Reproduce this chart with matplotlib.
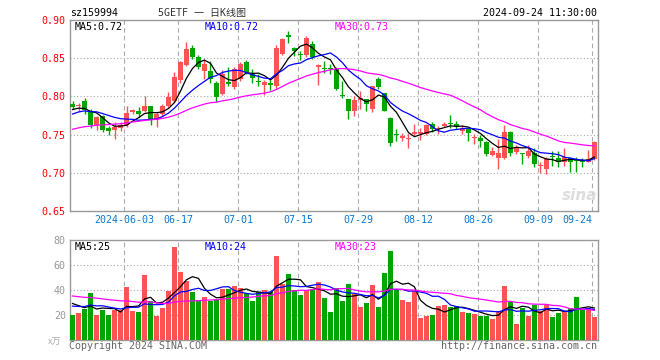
import numpy as np
import pandas as pd
import matplotlib
matplotlib.use("Agg")
import matplotlib.pyplot as plt

# --- data (5GETF sz159994, daily, 2024-05-21 .. 2024-09-24) ---
opens = [0.790, 0.787, 0.7937, 0.7807, 0.762, 0.774, 0.7585, 0.7554, 0.758, 0.763,
         0.7794, 0.7815, 0.7815, 0.787, 0.7697, 0.777, 0.788, 0.7946, 0.8215, 0.8407,
         0.8635, 0.851, 0.833, 0.8337, 0.817, 0.8033, 0.8185, 0.812, 0.8228, 0.8446,
         0.829, 0.8206, 0.8155, 0.8173, 0.814, 0.8555, 0.880, 0.864, 0.856, 0.854,
         0.868, 0.8385, 0.837, 0.837, 0.836, 0.8015, 0.797, 0.781, 0.7955, 0.796,
         0.783, 0.823, 0.804, 0.772, 0.7505, 0.746, 0.7445, 0.7505, 0.7505, 0.7505,
         0.764, 0.757, 0.7615, 0.7655, 0.764, 0.7545, 0.7575, 0.7455, 0.746, 0.740,
         0.7235, 0.719, 0.719, 0.753, 0.727, 0.7265, 0.7225, 0.7255, 0.7085, 0.7055,
         0.7215, 0.720, 0.7135, 0.7195, 0.7165, 0.715, 0.7145, 0.718]
highs = [0.7945, 0.791, 0.798, 0.7837, 0.774, 0.776, 0.761, 0.7663, 0.766, 0.788,
         0.784, 0.786, 0.801, 0.788, 0.779, 0.790, 0.8055, 0.8316, 0.846, 0.871,
         0.867, 0.854, 0.849, 0.846, 0.8206, 0.834, 0.838, 0.838, 0.845, 0.847,
         0.836, 0.829, 0.822, 0.821, 0.867, 0.876, 0.885, 0.865, 0.860, 0.879,
         0.872, 0.843, 0.846, 0.843, 0.838, 0.8206, 0.797, 0.801, 0.8075, 0.797,
         0.814, 0.826, 0.805, 0.773, 0.7575, 0.752, 0.752, 0.764, 0.7585, 0.764,
         0.766, 0.7615, 0.766, 0.776, 0.768, 0.762, 0.759, 0.751, 0.750, 0.741,
         0.734, 0.744, 0.762, 0.755, 0.736, 0.7265, 0.736, 0.733, 0.714, 0.7205,
         0.729, 0.729, 0.733, 0.721, 0.721, 0.719, 0.7295, 0.741]
lows = [0.784, 0.7815, 0.777, 0.759, 0.7554, 0.754, 0.7497, 0.7436, 0.755, 0.7602,
        0.777, 0.773, 0.780, 0.762, 0.760, 0.775, 0.786, 0.7925, 0.818, 0.840,
        0.8487, 0.836, 0.823, 0.818, 0.7925, 0.802, 0.814, 0.8098, 0.8206, 0.8295,
        0.818, 0.814, 0.802, 0.809, 0.810, 0.854, 0.870, 0.853, 0.848, 0.851,
        0.849, 0.8143, 0.831, 0.829, 0.809, 0.7976, 0.770, 0.775, 0.7835, 0.781,
        0.780, 0.810, 0.7805, 0.7345, 0.741, 0.742, 0.7325, 0.748, 0.7435, 0.750,
        0.7535, 0.7505, 0.760, 0.759, 0.757, 0.7505, 0.742, 0.738, 0.734, 0.722,
        0.722, 0.7045, 0.7185, 0.7225, 0.724, 0.711, 0.720, 0.7075, 0.700, 0.698,
        0.7095, 0.708, 0.7095, 0.701, 0.701, 0.708, 0.7135, 0.717]
closes = [0.786, 0.789, 0.7824, 0.762, 0.7728, 0.7555, 0.7546, 0.7598, 0.763, 0.778,
          0.7824, 0.7772, 0.787, 0.7697, 0.777, 0.788, 0.799, 0.826, 0.8445, 0.862,
          0.8512, 0.838, 0.842, 0.8228, 0.799, 0.8294, 0.8163, 0.836, 0.8424, 0.8316,
          0.824, 0.8185, 0.819, 0.8147, 0.863, 0.875, 0.878, 0.859, 0.854, 0.876,
          0.851, 0.8415, 0.8355, 0.8355, 0.810, 0.8005, 0.781, 0.795, 0.7985, 0.790,
          0.8133, 0.812, 0.7815, 0.739, 0.750, 0.748, 0.7455, 0.7535, 0.753, 0.7625,
          0.757, 0.759, 0.7645, 0.764, 0.7595, 0.7585, 0.7525, 0.746, 0.741, 0.725,
          0.728, 0.726, 0.754, 0.726, 0.733, 0.724, 0.728, 0.711, 0.709, 0.718,
          0.7205, 0.7145, 0.7205, 0.7145, 0.716, 0.7145, 0.7185, 0.740]
volumes = [20.0, 21.6, 24.8, 37.6, 20.0, 24.0, 20.0, 24.0, 24.0, 42.4,
           23.2, 22.4, 52.0, 31.0, 19.5, 26.0, 39.0, 74.4, 54.4, 47.2,
           38.4, 32.0, 34.4, 31.2, 32.8, 40.8, 40.8, 43.2, 41.6, 37.6,
           31.2, 38.4, 40.0, 38.4, 67.2, 44.8, 52.8, 40.0, 36.0, 40.0,
           40.8, 46.4, 33.6, 22.4, 41.6, 31.2, 44.8, 36.8, 26.4, 29.6,
           44.0, 26.4, 53.6, 71.2, 40.0, 32.0, 30.4, 39.2, 17.6, 19.2,
           20.0, 27.2, 28.0, 26.4, 27.2, 22.4, 21.6, 20.8, 19.2, 19.2,
           16.8, 23.2, 43.2, 30.4, 12.8, 25.6, 19.2, 28.0, 23.2, 28.0,
           18.4, 21.6, 23.2, 25.6, 34.4, 24.0, 25.6, 18.4]

# earlier sessions (off-chart), estimated so the moving averages start where the reference shows
prior_closes = [0.735, 0.738, 0.736, 0.740, 0.742, 0.741, 0.744, 0.746, 0.745, 0.748,
                0.750, 0.749, 0.752, 0.751, 0.754, 0.753, 0.755, 0.752, 0.754, 0.756,
                0.762, 0.768, 0.772, 0.775, 0.778, 0.780, 0.784, 0.781, 0.783]
prior_volumes = [38, 40, 42, 37, 39, 41, 36, 40, 43, 38,
                 39, 41, 37, 40, 42, 38, 39, 40, 36, 39,
                 24, 26, 25, 27, 23, 30, 33, 31, 32]

tick_idx = [9, 18, 28, 38, 48, 58, 68, 78, 87]
tick_labels = ["2024-06-03", "06-17", "07-01", "07-15", "07-29", "08-12", "08-26", "09-09", "09-24"]

RED, GREEN = "#ff5252", "#00a600"
GRID = "#aaaaaa"
MONO = "DejaVu Sans Mono"

o, h, l, c = map(np.array, (opens, highs, lows, closes))
v = np.array(volumes)
x = np.arange(len(c))
up = c >= o
colors = np.where(up, RED, GREEN)


def ma(prior, vals, n):
    s = pd.Series(list(prior) + list(vals)).rolling(n).mean().to_numpy()
    return s[len(prior):]


W, H = 660, 360
fig = plt.figure(figsize=(6.6, 3.6), dpi=100)
ax = fig.add_axes([70 / W, 1 - 211 / H, 528 / W, 191 / H])
axv = fig.add_axes([70 / W, 1 - 340 / H, 528 / W, 100 / H])

# --- price panel ---
ax.vlines(x, l, h, colors=colors, lw=1, zorder=3)
body = np.maximum(np.abs(c - o), 0.0012)
ax.bar(x, body, bottom=np.minimum(o, c), width=0.83, color=colors, lw=0, zorder=4)
for n, col in [(5, "black"), (10, "#0000ff"), (30, "#ff00ff")]:
    ax.plot(x, ma(prior_closes, closes, n), color=col, lw=0.9, zorder=5)
ax.set_ylim(0.65, 0.90)
ax.set_yticks([0.65, 0.70, 0.75, 0.80, 0.85, 0.90])
ax.set_yticklabels(["%.2f" % t for t in ax.get_yticks()], color="#ff0000",
                   family=MONO, fontsize=7.2)
for yy in [0.70, 0.75, 0.80, 0.85]:
    ax.axhline(yy, color=GRID, lw=0.8, ls=(0, (1, 2)), zorder=1)

# --- volume panel ---
axv.bar(x, v, width=0.83, color=colors, lw=0, zorder=3)
for n, col in [(5, "black"), (10, "#0000ff"), (30, "#ff00ff")]:
    axv.plot(x, ma(prior_volumes, volumes, n), color=col, lw=0.9, zorder=5)
axv.set_ylim(0, 80)
axv.set_yticks([20, 40, 60, 80])
axv.set_yticklabels(["20", "40", "60", "80"], color="#999999", family=MONO, fontsize=7.2)
for yy in [20, 40, 60]:
    axv.axhline(yy, color=GRID, lw=0.8, ls=(0, (1, 2)), zorder=1)

for a in (ax, axv):
    a.set_xlim(-0.42, 87.6)
    a.set_xticks([t - 0.4 for t in tick_idx])
    for t in tick_idx:
        a.axvline(t - 0.4, color=GRID, lw=0.8, ls=(0, (4, 3)), zorder=1)
    a.tick_params(length=0, pad=3)
    for s in a.spines.values():
        s.set_color("#999999")
        s.set_linewidth(1)

ax.set_xticklabels(tick_labels, color="#0a78d2", family=MONO, fontsize=7.2)
ax.get_xticklabels()[-1].set_horizontalalignment("right")
axv.set_xticklabels([])

# --- texts ---
def ftext(px, py, s, **kw):
    fig.text(px / W, 1 - py / H, s, va="center", **kw)

ftext(70, 13, "sz159994", family=MONO, fontsize=7.2)
ftext(202, 13, "5GETF 一 日K线图", family=[MONO, "Noto Sans CJK SC"], fontsize=7.2,
      ha="center", color="#333333")
ftext(597, 13, "2024-09-24 11:30:00", family=MONO, fontsize=7.2, ha="right")

ftext(75, 27, "MA5:0.72", family=MONO, fontsize=7.2, color="black")
ftext(205, 27, "MA10:0.72", family=MONO, fontsize=7.2, color="#0000ff")
ftext(335, 27, "MA30:0.73", family=MONO, fontsize=7.2, color="#ff00ff")
ftext(75, 247, "MA5:25", family=MONO, fontsize=7.2, color="black")
ftext(205, 247, "MA10:24", family=MONO, fontsize=7.2, color="#0000ff")
ftext(335, 247, "MA30:23", family=MONO, fontsize=7.2, color="#ff00ff")

ftext(48, 342, "x万", family=["Noto Sans CJK SC"], fontsize=6.5, color="#aaaaaa")
ftext(69, 346, "Copyright 2024 SINA.COM", family=MONO, fontsize=7.2, color="#666666")
ftext(597, 346, "http://finance.sina.com.cn", family=MONO, fontsize=7.2,
      color="#666666", ha="right")
ftext(580, 195, "sina", fontsize=11, fontweight="bold", style="italic",
      color="#dddddd", ha="center", zorder=0)

fig.savefig("out.png", dpi=100)
